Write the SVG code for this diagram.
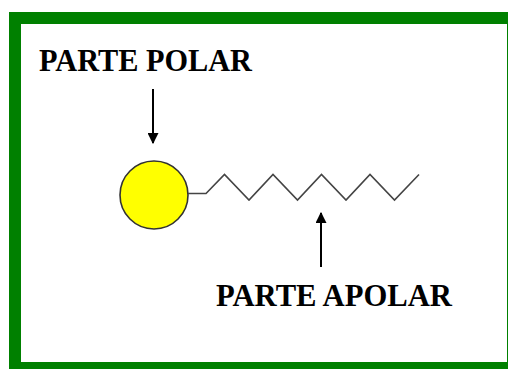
<svg xmlns="http://www.w3.org/2000/svg" width="508" height="369" viewBox="0 0 508 369">
<style>
.lbl{font-family:"Liberation Serif","Times New Roman",serif;font-weight:bold;font-size:31px;fill:#000}
.arr{stroke:#000;stroke-width:2;fill:none}
</style>
<defs>
<marker id="ah" viewBox="0 0 10 10" refX="9" refY="5" markerWidth="11" markerHeight="11" markerUnits="userSpaceOnUse" orient="auto">
<path d="M0,0 L10,5 L0,10 Z" fill="#000"/>
</marker>
</defs>
<rect x="0" y="0" width="508" height="369" fill="#fff"/>
<rect x="9" y="12" width="499" height="357" fill="#008000"/>
<rect x="21" y="24" width="486" height="338" fill="#fff"/>
<g id="polar">
<circle cx="154" cy="195" r="34" fill="#ffff00" stroke="#333" stroke-width="1.6"/>
</g>
<g id="apolar">
<polyline points="188,193.5 206,193.5 224.5,174.5 249,200 273,174.5 297.5,200 321.5,174.5 346,200 370,174.5 394.5,200 419,174.5" fill="none" stroke="#444" stroke-width="1.6"/>
</g>
<g id="label-polar">
<text class="lbl" x="39" y="71" textLength="213" lengthAdjust="spacingAndGlyphs">PARTE POLAR</text>
</g>
<g id="label-apolar">
<text class="lbl" x="216" y="306" textLength="236" lengthAdjust="spacingAndGlyphs">PARTE APOLAR</text>
</g>
<g id="connectors">
<line class="arr" x1="153" y1="89" x2="153" y2="143" marker-end="url(#ah)"/>
<line class="arr" x1="321" y1="267" x2="321" y2="213" marker-end="url(#ah)"/>
</g>
</svg>
